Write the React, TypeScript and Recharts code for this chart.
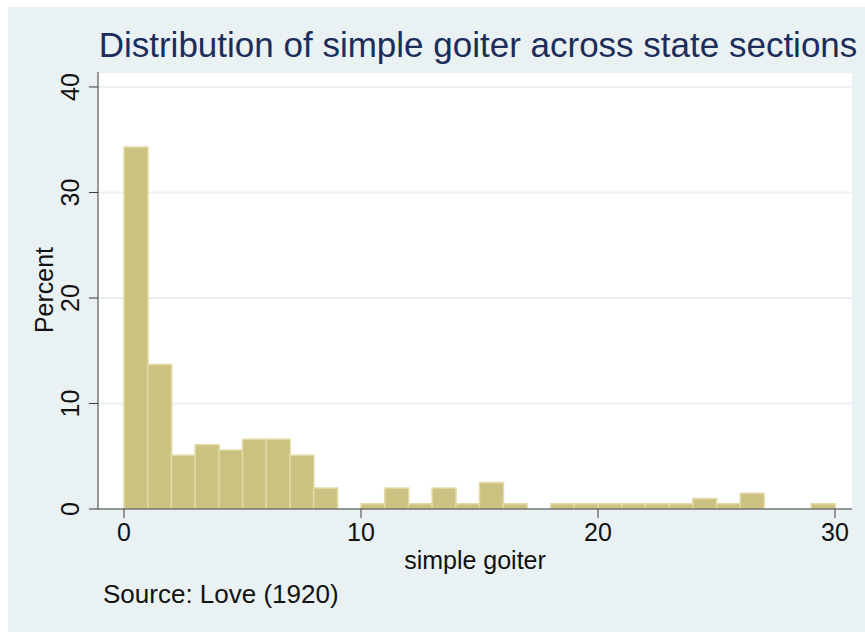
import React from 'react';
import { BarChart, Bar, XAxis, YAxis, CartesianGrid } from 'recharts';

// histogram bins of simple goiter (width 1), left edges
const binStart = [
  0, 1, 2, 3, 4, 5, 6, 7, 8, 9,
  10, 11, 12, 13, 14, 15, 16, 17, 18, 19,
  20, 21, 22, 23, 24, 25, 26, 27, 28, 29,
];
// percent of state sections in each bin
const percent = [
  34.3, 13.7, 5.1, 6.1, 5.6, 6.6, 6.6, 5.1, 2.0, 0,
  0.5, 2.0, 0.5, 2.0, 0.5, 2.5, 0.5, 0, 0.5, 0.5,
  0.5, 0.5, 0.5, 0.5, 1.0, 0.5, 1.5, 0, 0, 0.5,
];
const xTicks = [0, 10, 20, 30];
const yTicks = [0, 10, 20, 30, 40];

const data = binStart.map((b, i) => ({ bin: b, percent: percent[i] }));

const bg = '#eaf1f3';
const axisColor = '#3a3a3a';
const font = '"Liberation Sans", Arial, Helvetica, sans-serif';

const XTick = (props: any) => {
  const { x, y, payload } = props;
  return (
    <text x={x} y={y + 21} textAnchor="middle" fontSize={25} fill="#111" fontFamily={font}>
      {payload.value}
    </text>
  );
};

const YTick = (props: any) => {
  const { x, y, payload } = props;
  return (
    <text
      x={x}
      y={y}
      transform={`rotate(-90 ${x} ${y})`}
      textAnchor="middle"
      fontSize={25}
      fill="#111"
      fontFamily={font}
    >
      {payload.value}
    </text>
  );
};

export default function App() {
  return (
    <div style={{ position: 'absolute', left: 0, top: 0, width: 865, height: 632, background: '#fff' }}>
      <div style={{ position: 'absolute', left: 8, top: 7, width: 857, height: 625, background: bg }} />
      <div style={{ position: 'absolute', left: 0, top: 0 }}>
        <BarChart
          width={865}
          height={632}
          data={data}
          barCategoryGap={0}
          margin={{ top: 72, right: 13, left: 0, bottom: 83 }}
        >
          <CartesianGrid
            xAxisId="bins"
            vertical={false}
            stroke={bg}
            strokeWidth={2}
            fill="#ffffff"
          />
          <XAxis xAxisId="bins" dataKey="bin" hide height={0} padding={{ left: 26, right: 17 }} />
          <XAxis
            xAxisId="scale"
            dataKey="bin"
            type="number"
            domain={[0, 30]}
            allowDataOverflow
            padding={{ left: 26, right: 17 }}
            ticks={xTicks}
            height={40}
            tickSize={9}
            tickMargin={2}
            stroke={axisColor}
            tick={<XTick />}
          />
          <YAxis
            type="number"
            domain={[0, 41.42]}
            allowDataOverflow
            ticks={yTicks}
            width={98}
            tickSize={9}
            tickMargin={10}
            stroke={axisColor}
            tick={<YTick />}
          />
          <Bar
            xAxisId="bins"
            dataKey="percent"
            fill="#cbc282"
            stroke="#e2dba7"
            strokeWidth={1.5}
            isAnimationActive={false}
          />
        </BarChart>
      </div>
      <svg
        width={865}
        height={632}
        style={{ position: 'absolute', left: 0, top: 0, pointerEvents: 'none' }}
        fontFamily={font}
      >
        <text x={478} y={57} textAnchor="middle" fontSize={35} fill="#1c2d5c">
          Distribution of simple goiter across state sections
        </text>
        <text x={475} y={569} textAnchor="middle" fontSize={25} fill="#111">
          simple goiter
        </text>
        <text x={103} y={603} fontSize={26} fill="#111">
          Source: Love (1920)
        </text>
        <text x={53} y={290} transform="rotate(-90 53 290)" textAnchor="middle" fontSize={25} fill="#111">
          Percent
        </text>
      </svg>
    </div>
  );
}
